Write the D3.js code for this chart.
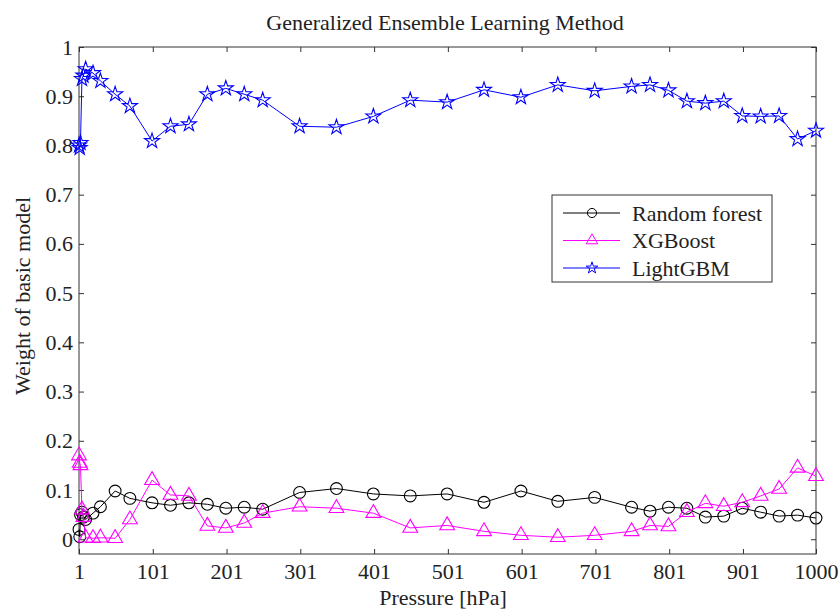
<!DOCTYPE html>
<html>
<head>
<meta charset="utf-8">
<script src="https://cdn.jsdelivr.net/npm/d3@7"></script>
<style>
  body { margin: 0; background: #fff; }
  svg text { font-family: "Liberation Serif", "DejaVu Serif", serif; fill: #222; }
</style>
</head>
<body>
<div id="chart"></div>
<script>
// Pressure levels (hPa)
const levels = [1, 2, 3, 5, 7, 10, 20, 30, 50, 70, 100, 125, 150, 175, 200, 225, 250,
    300, 350, 400, 450, 500, 550, 600, 650, 700, 750, 775, 800, 825, 850, 875, 900,
    925, 950, 975, 1000];

// Weights
const randomForest = [0.020, 0.005, 0.050, 0.055, 0.045, 0.040, 0.053, 0.066, 0.098, 0.083,
    0.074, 0.069, 0.074, 0.071, 0.063, 0.065, 0.061,
    0.095, 0.103, 0.092, 0.088, 0.092, 0.075, 0.098, 0.077, 0.085, 0.065, 0.057, 0.065,
    0.063, 0.045, 0.047, 0.063, 0.055, 0.047, 0.049, 0.043];
const xgboost = [0.170, 0.155, 0.150, 0.060, 0.045, 0.003, 0.002, 0.003, 0.002, 0.040,
    0.120, 0.090, 0.088, 0.027, 0.023, 0.033, 0.053,
    0.066, 0.063, 0.053, 0.023, 0.028, 0.016, 0.008, 0.004, 0.008, 0.016, 0.028, 0.026,
    0.055, 0.073, 0.067, 0.075, 0.088, 0.102, 0.145, 0.128];
const lightgbm = [0.800, 0.795, 0.805, 0.935, 0.942, 0.955, 0.947, 0.931, 0.904, 0.880,
    0.809, 0.839, 0.843, 0.904, 0.916, 0.904, 0.892,
    0.839, 0.837, 0.859, 0.892, 0.888, 0.913, 0.898, 0.923, 0.911, 0.920, 0.923, 0.912,
    0.890, 0.886, 0.890, 0.860, 0.859, 0.860, 0.813, 0.830];

const xTicks = [1, 101, 201, 301, 401, 501, 601, 701, 801, 901, 1000];
const yTicks = [0, 0.1, 0.2, 0.3, 0.4, 0.5, 0.6, 0.7, 0.8, 0.9, 1];

const series = [
    { name: 'Random forest', values: randomForest, color: '#000000', symbol: d3.symbolCircle, size: 110 },
    { name: 'XGBoost', values: xgboost, color: '#ff00ff', symbol: d3.symbolTriangle, size: 95 },
    { name: 'LightGBM', values: lightgbm, color: '#0000ff', symbol: d3.symbolStar, size: 70 }
];

const width = 840, height = 614;
const margin = { top: 47, right: 24, bottom: 60, left: 79 };
const iw = width - margin.left - margin.right;
const ih = height - margin.top - margin.bottom;
const fontSize = '22px';

const svg = d3.select('#chart').append('svg')
    .attr('width', width)
    .attr('height', height);

const g = svg.append('g')
    .attr('transform', `translate(${margin.left},${margin.top})`);

const x = d3.scaleLinear().domain([1, 1000]).range([0, iw]);
const y = d3.scaleLinear().domain([-0.03, 1]).range([ih, 0]);

// Axes with inward ticks on all four sides
const tickLen = 5;
g.append('g')
    .attr('transform', `translate(0,${ih})`)
    .call(d3.axisBottom(x).tickValues(xTicks).tickSize(-tickLen).tickPadding(9).tickFormat(d3.format('d')))
    .call(a => a.select('.domain').remove());
g.append('g')
    .call(d3.axisTop(x).tickValues(xTicks).tickSize(-tickLen).tickFormat(''))
    .call(a => a.select('.domain').remove());
g.append('g')
    .call(d3.axisLeft(y).tickValues(yTicks).tickSize(-tickLen).tickPadding(6).tickFormat(d => d === 0 ? '0' : d3.format('.1~f')(d)))
    .call(a => a.select('.domain').remove());
g.append('g')
    .attr('transform', `translate(${iw},0)`)
    .call(d3.axisRight(y).tickValues(yTicks).tickSize(-tickLen).tickFormat(''))
    .call(a => a.select('.domain').remove());

g.selectAll('.tick line').attr('stroke', '#333');
g.selectAll('.tick text')
    .style('font-size', fontSize)
    .style('font-family', '"Liberation Serif", serif')
    .attr('fill', '#222');

g.append('rect')
    .attr('width', iw)
    .attr('height', ih)
    .attr('fill', 'none')
    .attr('stroke', '#333')
    .attr('stroke-width', 1);

// Lines and markers
const line = d3.line()
    .x((d, i) => x(levels[i]))
    .y(d => y(d));

series.forEach(s => {
    g.append('path')
        .datum(s.values)
        .attr('fill', 'none')
        .attr('stroke', s.color)
        .attr('stroke-width', 1)
        .attr('d', line);

    g.selectAll(null)
        .data(s.values)
        .enter()
        .append('path')
        .attr('transform', (d, i) => `translate(${x(levels[i])},${y(d)})`)
        .attr('d', d3.symbol().type(s.symbol).size(s.size))
        .attr('fill', 'none')
        .attr('stroke', s.color)
        .attr('stroke-width', 1.1);
});

// Legend
const legend = svg.append('g').attr('transform', 'translate(552,195)');
legend.append('rect')
    .attr('width', 220)
    .attr('height', 87)
    .attr('fill', '#fff')
    .attr('stroke', '#333');

const item = legend.selectAll('.legend-item')
    .data(series)
    .enter()
    .append('g')
    .attr('transform', (d, i) => `translate(0,${18 + i * 27.5})`);
item.append('line')
    .attr('x1', 11).attr('x2', 68)
    .attr('stroke', d => d.color);
item.append('path')
    .attr('transform', 'translate(40,0)')
    .attr('d', d => d3.symbol().type(d.symbol).size(d.size * 0.6)())
    .attr('fill', 'none')
    .attr('stroke', d => d.color);
item.append('text')
    .attr('x', 80)
    .attr('dy', '0.35em')
    .style('font-size', fontSize)
    .text(d => d.name);

// Titles
svg.append('text')
    .attr('x', 445)
    .attr('y', 30)
    .attr('text-anchor', 'middle')
    .style('font-size', fontSize)
    .text('Generalized Ensemble Learning Method');

svg.append('text')
    .attr('x', 443)
    .attr('y', 605)
    .attr('text-anchor', 'middle')
    .style('font-size', fontSize)
    .text('Pressure [hPa]');

svg.append('text')
    .attr('transform', 'translate(30,296) rotate(-90)')
    .attr('text-anchor', 'middle')
    .style('font-size', fontSize)
    .text('Weight of basic model');
</script>
</body>
</html>
